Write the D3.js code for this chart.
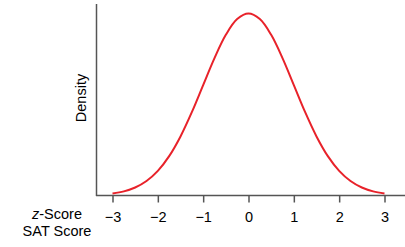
<!DOCTYPE html>
<html><head><meta charset="utf-8">
<script src="https://cdn.jsdelivr.net/npm/d3@7"></script>
<style>html,body{margin:0;padding:0;background:#fff;}svg{display:block;}</style>
</head><body>
<script>
// z positions and density values
const zValues = [-3,-2.75,-2.5,-2.25,-2,-1.75,-1.5,-1.25,-1,-0.75,-0.5,-0.25,0,0.25,0.5,0.75,1,1.25,1.5,1.75,2,2.25,2.5,2.75,3];
const densityValues = [0.0044,0.0091,0.0175,0.0317,0.0540,0.0863,0.1295,0.1826,0.2420,0.3011,0.3521,0.3867,0.3989,0.3867,0.3521,0.3011,0.2420,0.1826,0.1295,0.0863,0.0540,0.0317,0.0175,0.0091,0.0044];
const tickValues = [-3,-2,-1,0,1,2,3];
const tickLabels = ["\u22123","\u22122","\u22121","0","1","2","3"];
const rowLabels = ["z-Score","SAT Score"];
const yTitle = "Density";

const W = 405, H = 247;
const svg = d3.select("body").append("svg").attr("width", W).attr("height", H);
const font = "'Liberation Sans', Arial, Helvetica, sans-serif";
const fs = "14.5px";

const x = d3.scaleLinear().domain([-3, 3]).range([112.5, 384.5]);
const y = d3.scaleLinear().domain([0, 0.3989]).range([195.5, 13.5]);

const axisColor = "#555";
// axes lines
svg.append("line").attr("x1", 96.5).attr("x2", 96.5).attr("y1", 4).attr("y2", 196)
  .attr("stroke", axisColor).attr("stroke-width", 1.5);
svg.append("line").attr("x1", 96).attr("x2", 405).attr("y1", 195.5).attr("y2", 195.5)
  .attr("stroke", axisColor).attr("stroke-width", 1.5);

// ticks
const xAxis = d3.axisBottom(x).tickValues(tickValues)
  .tickFormat((d, i) => tickLabels[i]).tickSize(7).tickPadding(9);
const gx = svg.append("g").attr("transform", "translate(0,195.5)").call(xAxis);
gx.select(".domain").remove();
gx.selectAll(".tick line").attr("stroke", axisColor).attr("stroke-width", 1.5);
gx.selectAll(".tick text").attr("fill", "#000").style("font-family", font).style("font-size", fs);

// curve
const line = d3.line().x((d, i) => x(zValues[i])).y(d => y(d)).curve(d3.curveCatmullRom);
svg.append("path").datum(densityValues).attr("d", line)
  .attr("fill", "none").attr("stroke", "#e8222a").attr("stroke-width", 2);

// row labels
const t1 = svg.append("text").attr("x", 57).attr("y", 219).attr("text-anchor", "middle")
  .style("font-family", font).style("font-size", fs);
t1.append("tspan").attr("font-style", "italic").text(rowLabels[0].slice(0, 1));
t1.append("tspan").text(rowLabels[0].slice(1));
svg.append("text").attr("x", 57).attr("y", 236).attr("text-anchor", "middle")
  .style("font-family", font).style("font-size", fs).text(rowLabels[1]);

// y title
svg.append("text").attr("transform", "translate(86,98) rotate(-90)").attr("text-anchor", "middle")
  .style("font-family", font).style("font-size", fs).text(yTitle);
</script>
</body></html>
